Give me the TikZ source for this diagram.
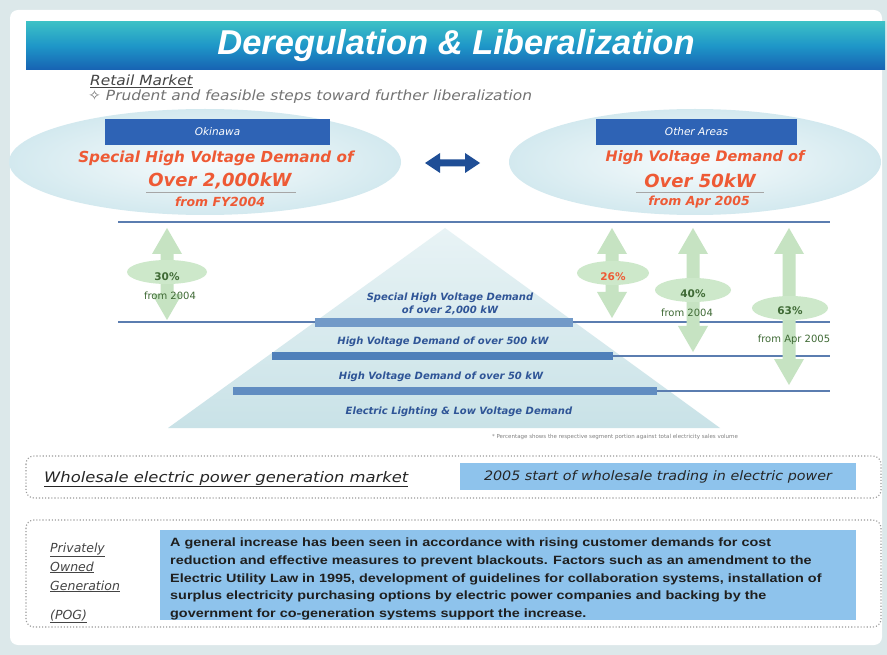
\documentclass[tikz,border=0pt]{standalone}
\usepackage{fontspec}
\setmainfont{DejaVu Sans}
\newfontfamily\arialf{Liberation Sans}
\newfontfamily\widef[FakeStretch=1.1]{DejaVu Sans}
\newfontfamily\wideg[FakeStretch=1.13]{DejaVu Sans}
\newfontfamily\widearial[FakeStretch=1.2]{Liberation Sans}
\usetikzlibrary{calc}
\definecolor{bgc}{HTML}{DCE8EA}
\definecolor{redt}{HTML}{EE5A35}
\definecolor{boxb}{HTML}{2E63B5}
\definecolor{lblue}{HTML}{8EC3EC}
\definecolor{linec}{HTML}{5B7DB0}
\definecolor{barc}{HTML}{4F80BA}
\definecolor{garc}{HTML}{C6E3C2}
\definecolor{gell}{HTML}{CDE8CA}
\definecolor{gtxt}{HTML}{3F6A35}
\definecolor{pyrt}{HTML}{2F5597}
\definecolor{graytxt}{HTML}{444444}
\definecolor{tbtop}{HTML}{3CC0C6}
\definecolor{tbmid}{HTML}{1E96C8}
\definecolor{tbbot}{HTML}{1762B2}
\definecolor{ellin}{HTML}{F7FBFC}
\definecolor{ellout}{HTML}{D3E9EF}
\definecolor{pyrtop}{HTML}{E8F3F5}
\definecolor{pyrbot}{HTML}{C9E2E7}
\definecolor{darrow}{HTML}{1F4E96}
\newcommand\garrow[3]{%
  \fill[garc] (#1,#2) -- ({#1+15},{#2+26}) -- ({#1+6.5},{#2+26}) -- ({#1+6.5},{#3-26})
    -- ({#1+15},{#3-26}) -- (#1,#3) -- ({#1-15},{#3-26}) -- ({#1-6.5},{#3-26})
    -- ({#1-6.5},{#2+26}) -- ({#1-15},{#2+26}) -- cycle;}
\tikzset{
  redline/.style={text=redt, font=\bfseries\itshape\fontsize{14.5}{16}\selectfont, inner sep=0pt},
  bigred/.style={text=redt, font=\bfseries\itshape\fontsize{18}{20}\selectfont, inner sep=0pt},
  fromred/.style={text=redt, font=\bfseries\itshape\fontsize{12.5}{14}\selectfont, inner sep=0pt},
  areabox/.style={fill=boxb, text=white, font=\itshape\fontsize{10.5}{12}\selectfont, inner sep=0pt},
  pyrlab/.style={text=pyrt, font=\bfseries\itshape\fontsize{10}{13}\selectfont, inner sep=0pt, align=center},
  pct/.style={text=gtxt, font=\bfseries\fontsize{10.5}{12}\selectfont, inner sep=0pt},
  fromg/.style={text=gtxt, font=\fontsize{10}{12}\selectfont, inner sep=0pt},
  dotbox/.style={draw=gray!80, dotted, line width=1.1pt, rounded corners=8pt},
  lbox/.style={fill=lblue},
  gtext/.style={text=graytxt, font=\itshape\fontsize{12.5}{14}\selectfont, inner sep=0pt, anchor=base west},
}
\begin{document}
\begin{tikzpicture}[x=1pt,y=-1pt]
\useasboundingbox (0,0) rectangle (887,655);
\fill[bgc] (0,0) rectangle (887,655);
\fill[white, rounded corners=8pt] (10,10) rectangle (882,645);
% title bar
\shade[top color=tbtop, bottom color=tbbot, middle color=tbmid] (26,22) rectangle (885,70);
\node[text=white, font=\arialf\bfseries\itshape\fontsize{34.5}{36}\selectfont, inner sep=0pt] (title) at (456,46) {Deregulation \& Liberalization};
% retail market
\node[gtext, font=\widef\itshape\fontsize{14}{15}\selectfont] (retail) at (90,86) {\underline{Retail Market}};
\node[gtext, text=gray!90!black, font=\widef\itshape\fontsize{14}{15}\selectfont] (prudent) at (88,101) {✧ Prudent and feasible steps toward further liberalization};
% ellipses
\shade[inner color=ellin, outer color=ellout] (205,162) ellipse [x radius=196, y radius=53];
\shade[inner color=ellin, outer color=ellout] (695,162) ellipse [x radius=186, y radius=53];
% area boxes
\node[areabox, minimum width=225pt, minimum height=26pt] (oki) at (217.5,132) {Okinawa};
\node[areabox, minimum width=201pt, minimum height=26pt] (oth) at (696.5,132) {Other Areas};
\node[redline, font=\bfseries\itshape\fontsize{15.2}{16}\selectfont] (ol1) at (216,158) {Special High Voltage Demand of};
\node[bigred] (ol2) at (220,181) {Over 2,000kW};
\draw[gray!70, line width=1pt] (146,193) -- (296,193);
\node[fromred] (ol3) at (220,202) {from FY2004};
\node[redline] (rl1) at (705,158) {High Voltage Demand of};
\node[bigred] (rl2) at (700,181) {Over 50kW};
\draw[gray!70, line width=1pt] (636,193) -- (764,193);
\node[fromred] (rl3) at (699,202) {from Apr 2005};
% blue double arrow
\fill[darrow] (425,163) -- (440,153) -- (440,159.5) -- (465,159.5) -- (465,153) -- (480,163) -- (465,173) -- (465,166.5) -- (440,166.5) -- (440,173) -- cycle;
% pyramid
\shade[top color=pyrtop, bottom color=pyrbot] (445,228) -- (720,428) -- (168,428) -- cycle;
% lines and bars
\draw[linec, line width=1.6pt] (118,222) -- (830,222);
\draw[linec, line width=1.6pt] (118,322) -- (830,322);
\draw[linec, line width=1.6pt] (272,356) -- (830,356);
\draw[linec, line width=1.6pt] (233,391) -- (830,391);
\fill[barc!80] (315,318) rectangle (573,327);
\fill[barc] (272,352) rectangle (613,360);
\fill[barc!90] (233,387) rectangle (657,395);
% pyramid labels
\node[pyrlab] (p1) at (450,304) {Special High Voltage Demand\\of over 2,000 kW};
\node[pyrlab] (p2) at (443,342) {High Voltage Demand of over 500 kW};
\node[pyrlab] (p3) at (441,377) {High Voltage Demand of over 50 kW};
\node[pyrlab] (p4) at (459,412) {Electric Lighting \& Low Voltage Demand};
\node[text=gray, font=\fontsize{5.5}{6}\selectfont, inner sep=0pt] (note) at (615,437) {* Percentage shows the respective segment portion against total electricity sales volume};
% green arrows
\garrow{167}{228}{320}
\garrow{612}{228}{318}
\garrow{693}{228}{352}
\garrow{789}{228}{385}
\fill[gell] (167,272) ellipse [x radius=40, y radius=12];
\fill[gell] (613,273) ellipse [x radius=36, y radius=12];
\fill[gell] (693,290) ellipse [x radius=38, y radius=12];
\fill[gell] (790,308) ellipse [x radius=38, y radius=12];
\node[pct] (g1) at (167,277) {30\%};
\node[fromg] (g1b) at (170,296) {from 2004};
\node[pct, text=redt] (g2) at (613,277) {26\%};
\node[pct] (g3) at (693,294) {40\%};
\node[fromg] (g3b) at (687,313) {from 2004};
\node[pct] (g4) at (790,311) {63\%};
\node[fromg] (g4b) at (794,340) {from Apr 2005};
% wholesale
\draw[dotbox] (26,456) rectangle (881,498);
\node[gtext, text=black!85, font=\wideg\itshape\fontsize{14.5}{16}\selectfont] (whole) at (44,482) {\underline{Wholesale electric power generation market}};
\node[lbox, minimum width=396pt, minimum height=27pt, inner sep=0pt, font=\widef\itshape\fontsize{13}{14}\selectfont, text=black!85] (wbox) at (658,476.5) {2005 start of wholesale trading in electric power};
% POG
\draw[dotbox] (26,520) rectangle (881,627);
\node[gtext] (pog1) at (50,552) {\underline{Privately}};
\node[gtext] (pog2) at (50,571) {\underline{Owned}};
\node[gtext] (pog3) at (50,590) {\underline{Generation}};
\node[gtext] (pog4) at (50,619) {\underline{(POG)}};
\node[lbox, minimum width=696pt, minimum height=90pt, inner sep=0pt] (pbox) at (508,575) {};
\node[anchor=north west, inner sep=0pt, text=black!88, align=left, font=\widearial\bfseries\fontsize{12}{17.6}\selectfont] (ptext) at (170,538) {A general increase has been seen in accordance with rising customer demands for cost\\reduction and effective measures to prevent blackouts. Factors such as an amendment to the\\Electric Utility Law in 1995, development of guidelines for collaboration systems, installation of\\surplus electricity purchasing options by electric power companies and backing by the\\government for co-generation systems support the increase.};
\end{tikzpicture}
\end{document}
